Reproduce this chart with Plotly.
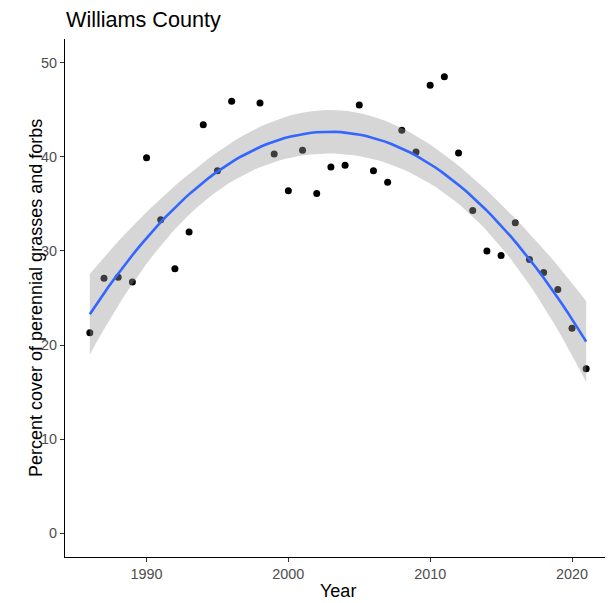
import numpy as np
import plotly.graph_objects as go

title = "Williams County"
x_title = "Year"
y_title = "Percent cover of perennial grasses and forbs"

years = [1986, 1987, 1988, 1989, 1990, 1991, 1992, 1993, 1994, 1995, 1996,
         1998, 1999, 2000, 2001, 2002, 2003, 2004, 2005, 2006, 2007, 2008,
         2009, 2010, 2011, 2012, 2013, 2014, 2015, 2016, 2017, 2018, 2019,
         2020, 2021]
cover = [21.3, 27.1, 27.2, 26.7, 39.9, 33.3, 28.1, 32.0, 43.4, 38.5, 45.9,
         45.7, 40.3, 36.4, 40.7, 36.1, 38.9, 39.1, 45.5, 38.5, 37.3, 42.8,
         40.5, 47.6, 48.5, 40.4, 34.3, 30.0, 29.5, 33.0, 29.1, 27.7, 25.9,
         21.8, 17.5]
x_ticks = [1990, 2000, 2010, 2020]
y_ticks = [0, 10, 20, 30, 40, 50]

# quadratic lm fit with 95% confidence band (like geom_smooth(method="lm", formula=y~poly(x,2)))
x = np.array(years, dtype=float)
y = np.array(cover, dtype=float)
xc = x - x.mean()
X = np.column_stack([np.ones_like(xc), xc, xc ** 2])
beta, *_ = np.linalg.lstsq(X, y, rcond=None)
resid = y - X @ beta
n, p = X.shape
s2 = resid @ resid / (n - p)
XtX_inv = np.linalg.inv(X.T @ X)
t_crit = 2.0369  # t(0.975, df=32)
xs = np.linspace(x.min(), x.max(), 80)
xsc = xs - x.mean()
Xs = np.column_stack([np.ones_like(xsc), xsc, xsc ** 2])
fit = Xs @ beta
se = np.sqrt(np.einsum("ij,jk,ik->i", Xs, XtX_inv, Xs) * s2)
lo = fit - t_crit * se
hi = fit + t_crit * se

# page body has an 8px margin, so the figure is sized/offset to compensate
W, H = 605, 595
L, R, T, B = 57, 2, 31, 46
plot_h = H - T - B

fig = go.Figure()
fig.add_trace(go.Scatter(x=years, y=cover, mode="markers",
                         marker=dict(color="black", size=7), showlegend=False))
fig.add_trace(go.Scatter(x=np.concatenate([xs, xs[::-1]]),
                         y=np.concatenate([hi, lo[::-1]]),
                         fill="toself", fillcolor="rgba(153,153,153,0.4)",
                         line=dict(width=0), mode="lines", showlegend=False,
                         hoverinfo="skip"))
fig.add_trace(go.Scatter(x=xs, y=fit, mode="lines",
                         line=dict(color="#3366FF", width=2.6), showlegend=False))

fig.update_layout(
    width=W, height=H,
    margin=dict(l=L, r=R, t=T, b=B, autoexpand=False),
    paper_bgcolor="white", plot_bgcolor="white",
    font=dict(family="Liberation Sans, Arial, sans-serif", color="black"),
    title=dict(text=title, x=58 / W, xanchor="left", y=1 - 11 / H, yanchor="middle",
               font=dict(size=21.6, color="black")),
)
fig.add_annotation(text=x_title, xref="paper", yref="paper", x=0.5,
                   y=-(583 - (H - B)) / plot_h, xanchor="center", yanchor="middle",
                   showarrow=False, font=dict(size=18, color="black"))
fig.add_annotation(text=y_title, xref="paper", yref="paper", x=-(L - 28) / (W - L - R),
                   y=0.5, xanchor="center", yanchor="middle", textangle=-90,
                   showarrow=False, font=dict(size=18, color="black"))
fig.update_xaxes(range=[1984.25, 2022.75], tickvals=x_ticks, showgrid=False, zeroline=False,
                 showline=True, linecolor="black", linewidth=1.1,
                 ticks="outside", ticklen=4, tickcolor="#333333", tickwidth=1.1,
                 tickfont=dict(size=14.4, color="#4D4D4D"))
fig.update_yaxes(range=[-2.5, 52.5], tickvals=y_ticks, showgrid=False, zeroline=False,
                 showline=True, linecolor="black", linewidth=1.1,
                 ticks="outside", ticklen=4, tickcolor="#333333", tickwidth=1.1,
                 tickfont=dict(size=14.4, color="#4D4D4D"))

fig.write_html("out.html")
